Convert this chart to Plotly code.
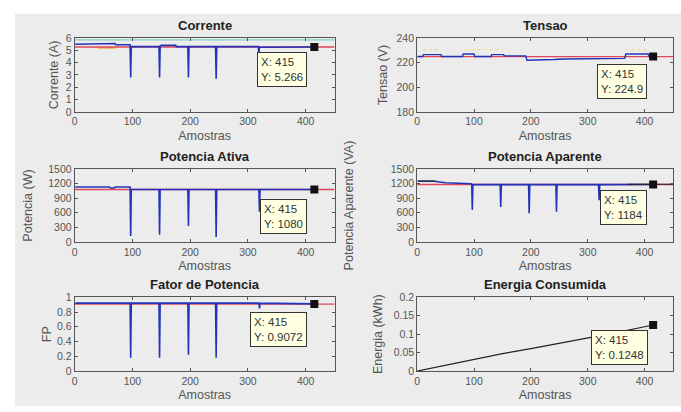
import plotly.graph_objects as go

W, H = 681, 412

# ---------------- data ----------------
# Corrente (A)
corr_x = [1, 40, 41, 70, 71, 96, 97, 98, 146, 147, 148, 150, 175, 176, 196, 197, 198, 244, 245, 246, 318, 319, 320, 415]
corr_y = [5.5, 5.5, 5.55, 5.55, 5.45, 5.45, 2.8, 5.3, 5.3, 2.8, 5.35, 5.4, 5.4, 5.3, 5.3, 2.8, 5.3, 5.3, 2.7, 5.3, 5.3, 4.7, 5.25, 5.266]
corr_max = 5.85
corr_mean = 5.266
corr_orange_x = [40, 70]
corr_orange_y = [5.2, 5.2]

# Tensao (V)
tens_x = [1, 10, 11, 42, 43, 80, 81, 100, 101, 130, 131, 152, 153, 191, 193, 215, 217, 240, 260, 275, 276, 365, 367, 406, 408, 415]
tens_y = [225, 225, 226.5, 226.5, 225, 225, 227, 227, 225, 225, 226.5, 226.5, 225.5, 225.5, 222, 222, 222.5, 222.5, 223, 223, 223.5, 223.5, 227, 227, 225, 224.9]
tens_hi_x = [10, 42, None, 85, 150, None, 366, 406]
tens_hi_y = [230.5, 230.5, None, 230.5, 230.5, None, 230.5, 230.5]
tens_mean = 224.9

# Potencia Ativa (W)
pat_x = [1, 60, 62, 68, 70, 96, 97, 98, 146, 147, 148, 196, 197, 198, 244, 245, 246, 319, 320, 321, 415]
pat_y = [1130, 1130, 1110, 1110, 1130, 1130, 120, 1080, 1080, 150, 1080, 1080, 330, 1080, 1080, 100, 1080, 1080, 620, 1080, 1080]
pat_mean = 1080

# Potencia Aparente (VA)
pap_x = [1, 30, 50, 95, 96, 97, 98, 146, 147, 148, 196, 197, 198, 244, 245, 246, 319, 320, 321, 415]
pap_y = [1250, 1250, 1220, 1200, 1180, 660, 1180, 1180, 720, 1180, 1180, 590, 1180, 1180, 620, 1180, 1180, 860, 1180, 1184]
pap_black_x = [1, 32, None, 370, 450]
pap_black_y = [1255, 1255, None, 1188, 1188]
pap_mean = 1184

# Fator de Potencia
fp_x = [1, 96, 97, 98, 146, 147, 148, 196, 197, 198, 244, 245, 246, 319, 320, 321, 415]
fp_y = [0.92, 0.92, 0.18, 0.92, 0.92, 0.18, 0.92, 0.92, 0.22, 0.92, 0.92, 0.18, 0.92, 0.92, 0.85, 0.92, 0.91]
fp_mean = 0.9072

# Energia Consumida (kWh)
en_x = [0, 50, 100, 150, 200, 250, 300, 350, 400, 415]
en_y = [0, 0.016, 0.032, 0.047, 0.061, 0.075, 0.09, 0.104, 0.12, 0.1248]

tip_x = 415
tips = [5.266, 224.9, 1080, 1184, 0.9072, 0.1248]
tip_text = ["5.266", "224.9", "1080", "1184", "0.9072", "0.1248"]
tip_box = [(315, 4.9), (317, 218.7), (321, 892), (322, 1060), (303, 0.80), (305, 0.11)]

titles = ["Corrente", "Tensao", "Potencia Ativa", "Potencia Aparente", "Fator de Potencia", "Energia Consumida"]
ylabels = ["Corrente (A)", "Tensao (V)", "Potencia (W)", "Potencia Aparente (VA)", "FP", "Energia (kWh)"]
yranges = [(0, 6), (180, 240), (0, 1500), (0, 1500), (0, 1), (0, 0.2)]
ydticks = [1, 20, 300, 300, 0.2, 0.05]
ystandoff = [4, 6, 12, 34, 2, 8]

# ---------------- layout geometry (pixels) ----------------
xdom_px = [(72, 333), (416, 673)]
ydom_px = [(33, 109), (168, 243), (300, 376)]

BLUE = "#2233bb"
RED = "#e0455a"

fig = go.Figure()

def xr(i):
    return "x" if i == 0 else f"x{i+1}"

def yr(i):
    return "y" if i == 0 else f"y{i+1}"

def line(i, x, y, color, width=1.4, dash="solid"):
    fig.add_trace(go.Scatter(x=x, y=y, mode="lines", xaxis=xr(i), yaxis=yr(i),
                             line=dict(color=color, width=width, dash=dash),
                             showlegend=False, hoverinfo="skip", connectgaps=False))

# Corrente
line(0, [0, 450], [corr_max, corr_max], "#7fd0c8", 1.4)
line(0, corr_orange_x, corr_orange_y, "#f0b040", 1.6)
line(0, [0, 450], [corr_mean, corr_mean], RED, 1.4)
line(0, corr_x, corr_y, BLUE, 1.6)
# Tensao
line(1, tens_hi_x, tens_hi_y, "#eedd99", 1.4, "dot")
line(1, [0, 450], [tens_mean, tens_mean], RED, 1.4)
line(1, tens_x, tens_y, BLUE, 1.4)
# Potencia Ativa
line(2, [0, 450], [pat_mean, pat_mean], RED, 1.4)
line(2, pat_x, pat_y, BLUE, 1.6)
# Potencia Aparente
line(3, [0, 450], [pap_mean, pap_mean], RED, 1.4)
line(3, pap_x, pap_y, BLUE, 1.6)
line(3, pap_black_x, pap_black_y, "#222222", 1.2)
# FP
line(4, [0, 450], [fp_mean, fp_mean], RED, 1.4)
line(4, fp_x, fp_y, BLUE, 1.6)
# Energia
line(5, en_x, en_y, "#222222", 1.2)

for i in range(6):
    fig.add_trace(go.Scatter(x=[tip_x], y=[tips[i]], mode="markers", xaxis=xr(i), yaxis=yr(i),
                             marker=dict(symbol="square", size=8, color="#111111"),
                             showlegend=False, hoverinfo="skip"))

layout = dict(width=W, height=H, margin=dict(l=0, r=0, t=0, b=0),
              paper_bgcolor="white", plot_bgcolor="white",
              font=dict(family="Liberation Sans, Arial, sans-serif", color="#333333"))

annotations = []
for i in range(6):
    row, col = i // 2, i % 2
    x0, x1 = xdom_px[col]
    ytop, ybot = ydom_px[row]
    xd = [x0 / W, x1 / W]
    yd = [1 - ybot / H, 1 - ytop / H]
    xs = "xaxis" if i == 0 else f"xaxis{i+1}"
    ys = "yaxis" if i == 0 else f"yaxis{i+1}"
    common = dict(showgrid=False, zeroline=False, showline=True, linecolor="#555555", linewidth=1,
                  mirror="ticks", ticks="inside", ticklen=3, tickcolor="#555555",
                  tickfont=dict(size=10.5, color="#555555"))
    layout[xs] = dict(domain=xd, range=[0, 450], dtick=100, anchor=yr(i),
                      title=dict(text="Amostras", font=dict(size=12.5, color="#555555"), standoff=4),
                      **common)
    layout[ys] = dict(domain=yd, range=list(yranges[i]), dtick=ydticks[i], anchor=xr(i),
                      title=dict(text=ylabels[i], font=dict(size=12.5, color="#555555"), standoff=ystandoff[i]),
                      **common)
    # subplot title
    annotations.append(dict(text="<b>" + titles[i] + "</b>", xref="paper", yref="paper",
                            x=(x0 + x1) / 2 / W, y=1 - (ytop - 13) / H, xanchor="center", yanchor="middle",
                            showarrow=False, font=dict(size=13, color="#222222")))
    # data tip
    bx, by = tip_box[i]
    annotations.append(dict(text=f"X: {tip_x}<br>Y: {tip_text[i]}", xref=xr(i), yref=yr(i),
                            x=bx, y=by, xanchor="left", yanchor="top", showarrow=False, align="left",
                            bgcolor="#ffffe1", bordercolor="#333333", borderwidth=1, borderpad=3,
                            font=dict(size=11.5, color="#333333")))

layout["annotations"] = annotations
layout["shapes"] = [dict(type="rect", xref="paper", yref="paper", x0=12 / W, x1=1, y0=0, y1=1 - 8 / H,
                         fillcolor="#ececec", line=dict(width=0), layer="below")]

fig.update_layout(**layout)
fig.write_html("out.html")
